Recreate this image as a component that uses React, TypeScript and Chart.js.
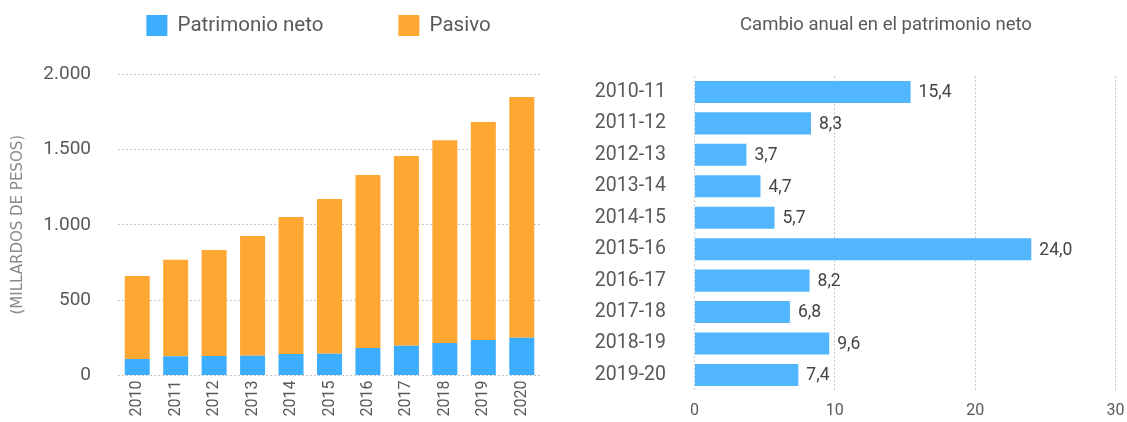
import React, { useEffect, useRef } from 'react';
import { Chart, registerables } from 'chart.js';

Chart.register(...registerables);

// ---- Data ----
const years = ['2010', '2011', '2012', '2013', '2014', '2015', '2016', '2017', '2018', '2019', '2020'];
const patrimonioNeto = [109, 128, 130, 131, 143, 144, 182, 198, 216, 235, 251];
const pasivo = [551, 639, 703, 795, 909, 1026, 1148, 1258, 1345, 1446, 1596];
const leftTickValues = [0, 500, 1000, 1500, 2000];

const periods = ['2010-11', '2011-12', '2012-13', '2013-14', '2014-15', '2015-16', '2016-17', '2017-18', '2018-19', '2019-20'];
const cambioAnual = [15.4, 8.3, 3.7, 4.7, 5.7, 24.0, 8.2, 6.8, 9.6, 7.4];
const rightTickValues = [0, 10, 20, 30];

// ---- Styles ----
const FONT = 'Roboto';
const TEXT = '#595959';
const GRID = '#c6c6c6';
const BLUE = '#3DAEFE';
const ORANGE = '#FFA733';
const BLUE_RIGHT = '#52B6FE';

const fmtThousands = (v: number) => String(v).replace(/\B(?=(\d{3})+(?!\d))/g, '.');
const fmtDecimal = (v: number) => v.toFixed(1).replace('.', ',');

const valueLabels = {
  id: 'valueLabels',
  afterDatasetsDraw(chart: any) {
    const ctx = chart.ctx;
    const meta = chart.getDatasetMeta(0);
    const data = chart.data.datasets[0].data as number[];
    ctx.save();
    ctx.font = `17.5px ${FONT}`;
    ctx.fillStyle = '#444444';
    ctx.textAlign = 'left';
    ctx.textBaseline = 'middle';
    meta.data.forEach((bar: any, i: number) => {
      const { x, y } = bar.getProps(['x', 'y'], true);
      ctx.fillText(fmtDecimal(data[i]), x + 8, y + 1);
    });
    ctx.restore();
  },
};

export default function App() {
  const leftRef = useRef<HTMLCanvasElement>(null);
  const rightRef = useRef<HTMLCanvasElement>(null);

  useEffect(() => {
    document.body.style.margin = '0';
    const left = new Chart(leftRef.current!, {
      type: 'bar',
      data: {
        labels: years,
        datasets: [
          { label: 'Patrimonio neto', data: patrimonioNeto, backgroundColor: BLUE, barPercentage: 0.65, categoryPercentage: 1 },
          { label: 'Pasivo', data: pasivo, backgroundColor: ORANGE, barPercentage: 0.65, categoryPercentage: 1 },
        ],
      },
      options: {
        responsive: false,
        animation: false,
        layout: { padding: 0 },
        plugins: {
          tooltip: { enabled: false },
          legend: {
            position: 'top',
            labels: {
              boxWidth: 21,
              boxHeight: 21,
              padding: 75,
              color: TEXT,
              font: { family: FONT, size: 20.5 },
            },
          },
        },
        scales: {
          x: {
            stacked: true,
            grid: { display: false, drawTicks: false },
            border: { display: false },
            ticks: {
              color: TEXT,
              font: { family: FONT, size: 16 },
              minRotation: 90,
              maxRotation: 90,
              padding: 5,
            },
            afterFit: (s: any) => { s.height = 46.5; },
          },
          padTop: {
            type: 'linear',
            position: 'top',
            display: true,
            grid: { display: false, drawTicks: false },
            border: { display: false },
            ticks: { display: false },
            afterFit: (s: any) => { s.height = 28; },
          },
          y: {
            stacked: true,
            min: 0,
            max: 2000,
            afterBuildTicks: (s: any) => { s.ticks = leftTickValues.map((v) => ({ value: v })); },
            grid: { color: GRID, lineWidth: 1, drawTicks: false },
            border: { display: false, dash: [2, 2] },
            ticks: {
              color: TEXT,
              font: { family: FONT, size: 19 },
              padding: 27,
              callback: (v: any) => fmtThousands(Number(v)),
            },
            title: {
              display: true,
              text: '(MILLARDOS DE PESOS)',
              color: '#8a8a8a',
              font: { family: 'DejaVu Sans', size: 15 },
              padding: { top: 9, bottom: 0 },
            },
            afterFit: (s: any) => { s.width = 118; },
          },
          padRight: {
            type: 'linear',
            position: 'right',
            display: true,
            grid: { display: false, drawTicks: false },
            border: { display: false },
            ticks: { display: false },
            afterFit: (s: any) => { s.width = 96; },
          },
        },
      },
    } as any);

    const right = new Chart(rightRef.current!, {
      type: 'bar',
      data: {
        labels: periods,
        datasets: [
          { label: 'Cambio anual en el patrimonio neto', data: cambioAnual, backgroundColor: BLUE_RIGHT, barPercentage: 0.7, categoryPercentage: 1 },
        ],
      },
      options: {
        indexAxis: 'y',
        responsive: false,
        animation: false,
        plugins: {
          tooltip: { enabled: false },
          legend: { display: false },
          title: {
            display: true,
            text: 'Cambio anual en el patrimonio neto',
            color: TEXT,
            font: { family: FONT, size: 18.5, weight: 'normal' },
            padding: { top: 14, bottom: 40 },
          },
        },
        scales: {
          x: {
            min: 0,
            max: 30,
            afterBuildTicks: (s: any) => { s.ticks = rightTickValues.map((v) => ({ value: v })); },
            grid: { color: GRID, lineWidth: 1, drawTicks: false },
            border: { display: false, dash: [2, 2] },
            ticks: { color: TEXT, font: { family: FONT, size: 16 }, padding: 11 },
            afterFit: (s: any) => { s.height = 31.3; },
          },
          y: {
            grid: { display: false, drawTicks: true, tickLength: 13 },
            border: { display: false },
            ticks: { color: TEXT, font: { family: FONT, size: 19.5 }, padding: 15.5 },
            afterFit: (s: any) => { s.width = 114.5; },
          },
          padRight: {
            type: 'linear',
            position: 'right',
            display: true,
            grid: { display: false, drawTicks: false },
            border: { display: false },
            ticks: { display: false },
            afterFit: (s: any) => { s.width = 76.5; },
          },
        },
      },
      plugins: [valueLabels],
    } as any);

    return () => {
      left.destroy();
      right.destroy();
    };
  }, []);

  return (
    <div style={{ position: 'fixed', left: 0, top: 0, width: 1127, height: 422, overflow: 'hidden', background: '#fff' }}>
      <canvas ref={leftRef} width={637} height={482} style={{ position: 'absolute', left: 0, top: -60, width: 637, height: 482 }} />
      <canvas ref={rightRef} width={612} height={422} style={{ position: 'absolute', left: 580, top: 0, width: 612, height: 422 }} />
    </div>
  );
}
